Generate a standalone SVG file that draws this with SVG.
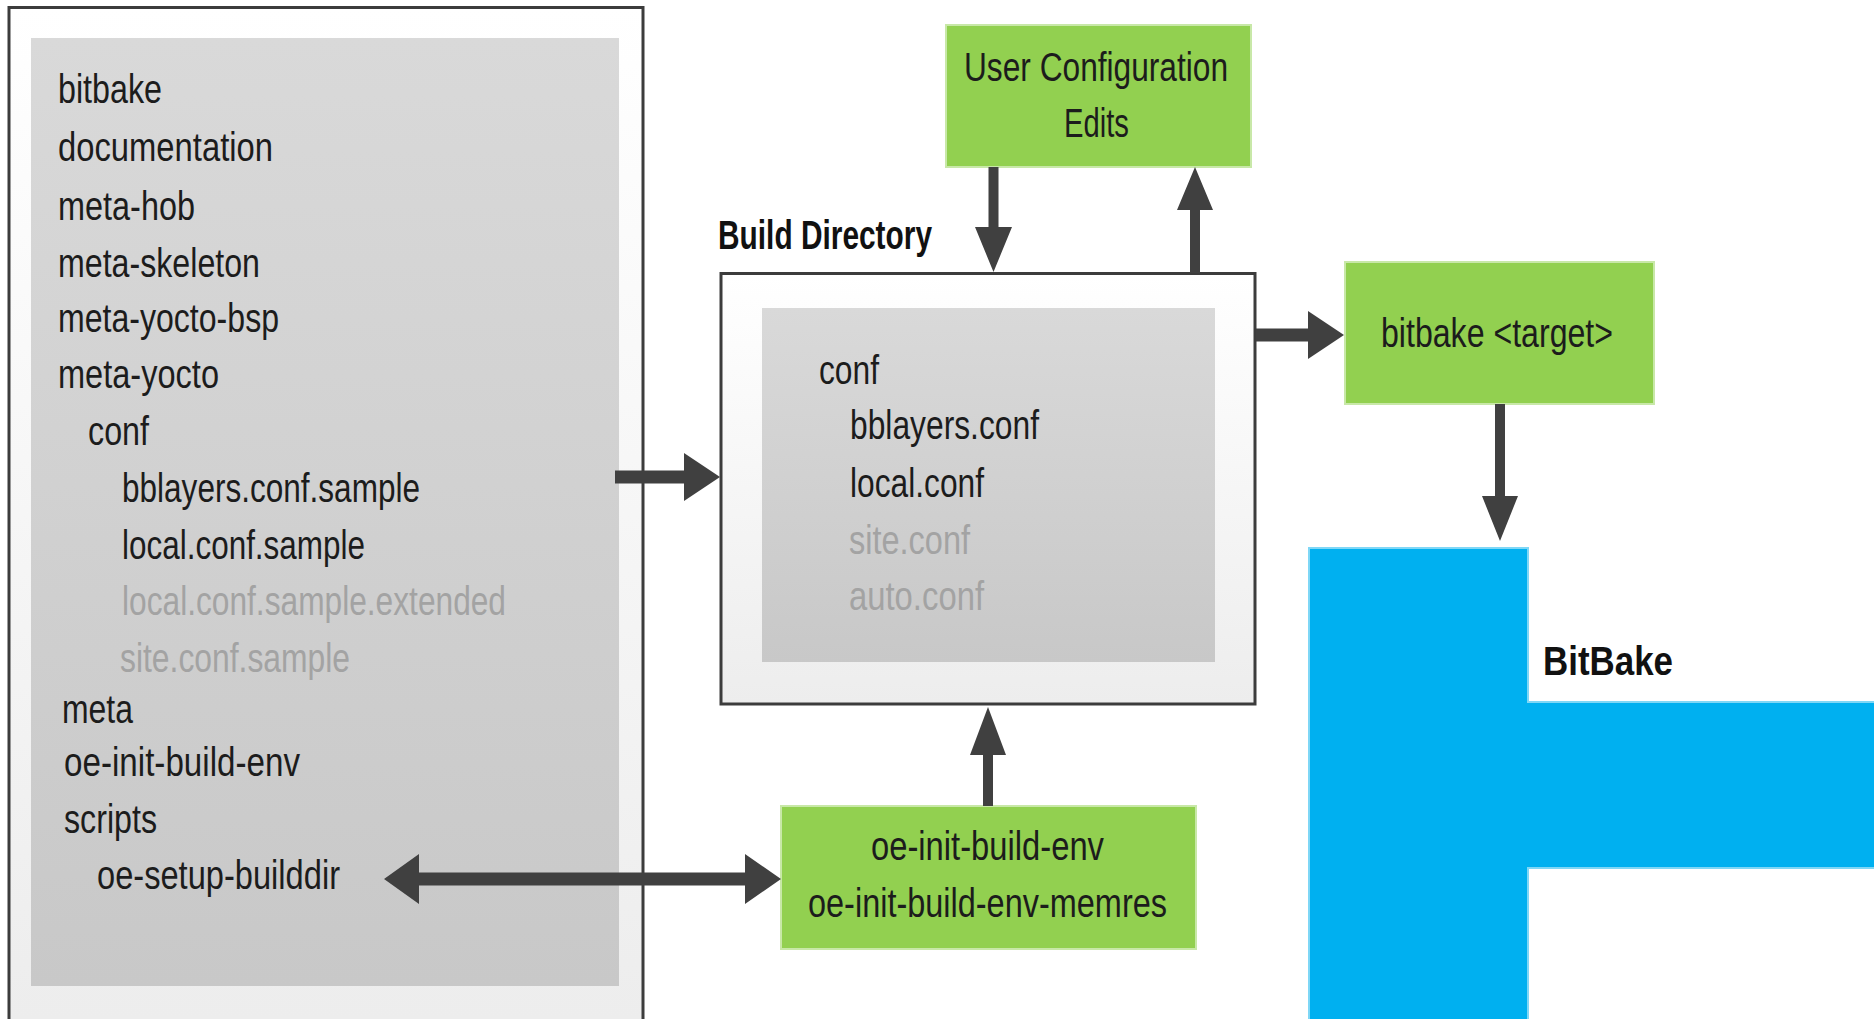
<svg xmlns="http://www.w3.org/2000/svg" width="1874" height="1019" viewBox="0 0 1874 1019">
  <defs>
    <linearGradient id="outerGrad" x1="0" y1="0" x2="0" y2="1">
      <stop offset="0" stop-color="#ffffff"/>
      <stop offset="1" stop-color="#ededed"/>
    </linearGradient>
    <linearGradient id="innerGrad" x1="0" y1="0" x2="0" y2="1">
      <stop offset="0" stop-color="#d9d9d9"/>
      <stop offset="1" stop-color="#c8c8c8"/>
    </linearGradient>
  </defs>
  <style>
    .frame { stroke: #3c3c3c; stroke-width: 3; fill: url(#outerGrad); }
    .inner { fill: url(#innerGrad); stroke: none; }
    .green { fill: #92d050; stroke: #c8e8a8; stroke-width: 2; }
    .blue { fill: #00b0f0; stroke: #7fd7f6; stroke-width: 2; }
    .t { font-family: "Liberation Sans", Arial, sans-serif; font-size: 40px; fill: #1c1c1c; }
    .g { fill: #a3a3a3; }
    .b { font-weight: bold; fill: #111111; }
    .arrow { fill: #404040; stroke: none; }
  </style>
  <rect width="1874" height="1019" fill="#ffffff"/>

  <g id="source-tree">
    <rect class="frame" x="9" y="7.5" width="634" height="1013"/>
    <rect class="inner" x="31" y="38" width="588" height="948"/>
    <text class="t" x="58" y="103" textLength="104" lengthAdjust="spacingAndGlyphs">bitbake</text>
    <text class="t" x="58" y="161" textLength="215" lengthAdjust="spacingAndGlyphs">documentation</text>
    <text class="t" x="58" y="220" textLength="137" lengthAdjust="spacingAndGlyphs">meta-hob</text>
    <text class="t" x="58" y="277" textLength="202" lengthAdjust="spacingAndGlyphs">meta-skeleton</text>
    <text class="t" x="58" y="332" textLength="221" lengthAdjust="spacingAndGlyphs">meta-yocto-bsp</text>
    <text class="t" x="58" y="388" textLength="161" lengthAdjust="spacingAndGlyphs">meta-yocto</text>
    <text class="t" x="88" y="445" textLength="61" lengthAdjust="spacingAndGlyphs">conf</text>
    <text class="t" x="122" y="502" textLength="298" lengthAdjust="spacingAndGlyphs">bblayers.conf.sample</text>
    <text class="t" x="122" y="559" textLength="243" lengthAdjust="spacingAndGlyphs">local.conf.sample</text>
    <text class="t g" x="122" y="615" textLength="384" lengthAdjust="spacingAndGlyphs">local.conf.sample.extended</text>
    <text class="t g" x="120" y="672" textLength="230" lengthAdjust="spacingAndGlyphs">site.conf.sample</text>
    <text class="t" x="62" y="723" textLength="71" lengthAdjust="spacingAndGlyphs">meta</text>
    <text class="t" x="64" y="776" textLength="236" lengthAdjust="spacingAndGlyphs">oe-init-build-env</text>
    <text class="t" x="64" y="833" textLength="93" lengthAdjust="spacingAndGlyphs">scripts</text>
    <text class="t" x="97" y="889" textLength="243" lengthAdjust="spacingAndGlyphs">oe-setup-builddir</text>
  </g>

  <g id="build-directory">
    <text class="t b" x="718" y="249" font-size="39" textLength="214" lengthAdjust="spacingAndGlyphs">Build Directory</text>
    <rect class="frame" x="721" y="273.5" width="534" height="430.5"/>
    <rect class="inner" x="762" y="308" width="453" height="354"/>
    <text class="t" x="819" y="384" textLength="60" lengthAdjust="spacingAndGlyphs">conf</text>
    <text class="t" x="850" y="439" textLength="189" lengthAdjust="spacingAndGlyphs">bblayers.conf</text>
    <text class="t" x="850" y="497" textLength="134" lengthAdjust="spacingAndGlyphs">local.conf</text>
    <text class="t g" x="849" y="554" textLength="121" lengthAdjust="spacingAndGlyphs">site.conf</text>
    <text class="t g" x="849" y="610" textLength="135" lengthAdjust="spacingAndGlyphs">auto.conf</text>
  </g>

  <g id="user-config">
    <rect class="green" x="946" y="25" width="305" height="142"/>
    <text class="t" x="964" y="81" textLength="264" lengthAdjust="spacingAndGlyphs">User Configuration</text>
    <text class="t" x="1064" y="137" textLength="65" lengthAdjust="spacingAndGlyphs">Edits</text>
  </g>

  <g id="bitbake-target">
    <rect class="green" x="1345" y="262" width="309" height="142"/>
    <text class="t" x="1381" y="347" textLength="232" lengthAdjust="spacingAndGlyphs">bitbake &lt;target&gt;</text>
  </g>

  <g id="oe-init">
    <rect class="green" x="781" y="806" width="415" height="143"/>
    <text class="t" x="871" y="860" font-size="38" textLength="233" lengthAdjust="spacingAndGlyphs">oe-init-build-env</text>
    <text class="t" x="808" y="917" font-size="38" textLength="359" lengthAdjust="spacingAndGlyphs">oe-init-build-env-memres</text>
  </g>

  <g id="bitbake">
    <path class="blue" d="M1309,548 H1528 V702 H1876 V868 H1528 V1021 H1309 Z"/>
    <text class="t b" x="1543" y="675" font-size="46" textLength="130" lengthAdjust="spacingAndGlyphs">BitBake</text>
  </g>

  <g id="connectors">
    <path class="arrow" d="M615,470.5 H684 V453 L720,477 L684,501 V483.5 H615 Z"/>
    <path class="arrow" d="M1256,328.5 H1308 V311 L1344,335 L1308,359 V341.5 H1256 Z"/>
    <path class="arrow" d="M988.5,167 V227 H975 L993.5,272 L1012,227 H998.5 V167 Z"/>
    <path class="arrow" d="M1190,273 V210 H1177 L1195,167 L1213,210 H1200 V273 Z"/>
    <path class="arrow" d="M983,806 V755 H970 L988,707 L1006,755 H993 V806 Z"/>
    <path class="arrow" d="M1495,404 V496 H1482 L1500,541 L1518,496 H1505 V404 Z"/>
    <path class="arrow" d="M384,879 L419,854 V872.5 H745 V854 L781,879 L745,904 V885.5 H419 V904 Z"/>
  </g>
</svg>
